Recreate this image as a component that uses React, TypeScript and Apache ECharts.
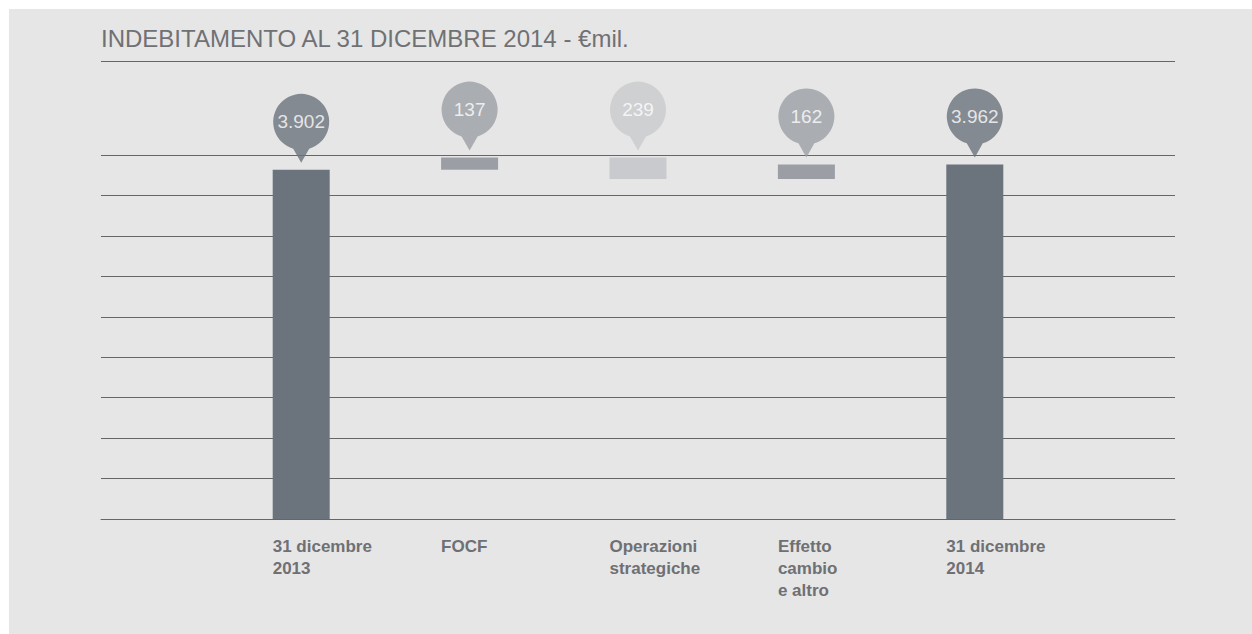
import React, { useEffect, useRef } from "react";
import * as echarts from "echarts";

const categories = [
  "31 dicembre\n2013",
  "FOCF",
  "Operazioni\nstrategiche",
  "Effetto\ncambio\ne altro",
  "31 dicembre\n2014",
];
const startValue = 3902;
const changes = [137, -239, 162];
const endValue = 3962;
const valueLabels = ["3.902", "137", "239", "162", "3.962"];
const barColors = ["#6b737c", "#9b9fa5", "#c8cacd", "#9b9fa5", "#6b737c"];
const axisMax = 4068;
const axisInterval = 452;
const titleText = "INDEBITAMENTO AL 31 DICEMBRE 2014 - €mil.";

const FONT = "'Liberation Sans', Arial, sans-serif";
const PIN = "path://M28 69 L20 54.8 A28 28 0 1 1 36 54.8 Z";

export default function App() {
  const ref = useRef<HTMLDivElement>(null);

  useEffect(() => {
    if (!ref.current) return;
    const chart = echarts.init(ref.current, undefined, { renderer: "svg" });

    const bases: number[] = [0];
    const heights: number[] = [startValue];
    let running = startValue;
    changes.forEach((c) => {
      bases.push(c > 0 ? running : running + c);
      heights.push(Math.abs(c));
      running += c;
    });
    bases.push(0);
    heights.push(endValue);
    const tops = bases.map((b, i) => b + heights[i]);

    const gridTop = 155;
    const gridHeight = 364;

    chart.setOption({
      animation: false,
      backgroundColor: "#ffffff",
      graphic: [
        {
          type: "rect",
          shape: { x: 9, y: 9, width: 1252, height: 634 },
          style: { fill: "#e6e6e6" },
          z: -10,
          silent: true,
        },
        {
          type: "text",
          x: 101,
          y: 38,
          style: {
            text: titleText,
            fill: "#707174",
            font: `normal 24px ${FONT}`,
            verticalAlign: "middle",
            align: "left",
          },
        },
        {
          type: "line",
          shape: { x1: 101, y1: 61.5, x2: 1175, y2: 61.5 },
          style: { stroke: "#666666", lineWidth: 1 },
        },
      ],
      grid: [
        { left: 101, right: 77, top: gridTop, height: gridHeight },
        { left: 217, width: 842, top: gridTop, height: gridHeight },
        { left: 188.5, width: 842, top: gridTop, height: gridHeight },
      ],
      xAxis: [
        {
          type: "category",
          gridIndex: 0,
          data: [""],
          axisLine: { show: true, lineStyle: { color: "#666666", width: 1 } },
          axisTick: { show: false },
          axisLabel: { show: false },
        },
        {
          type: "category",
          gridIndex: 1,
          data: categories,
          axisLine: { show: false },
          axisTick: { show: false },
          axisLabel: { show: false },
        },
        {
          type: "category",
          gridIndex: 2,
          data: categories,
          axisLine: { show: false },
          axisTick: { show: false },
          axisLabel: {
            show: true,
            interval: 0,
            align: "left",
            verticalAlign: "top",
            margin: 16,
            lineHeight: 22,
            fontSize: 17,
            fontWeight: "bold",
            color: "#6e7074",
            fontFamily: FONT,
          },
        },
      ],
      yAxis: [
        {
          type: "value",
          gridIndex: 0,
          min: 0,
          max: axisMax,
          interval: axisInterval,
          axisLine: { show: false },
          axisTick: { show: false },
          axisLabel: { show: false },
          splitLine: { show: true, lineStyle: { color: "#666666", width: 1 } },
        },
        {
          type: "value",
          gridIndex: 1,
          min: 0,
          max: axisMax,
          interval: axisInterval,
          axisLine: { show: false },
          axisTick: { show: false },
          axisLabel: { show: false },
          splitLine: { show: false },
        },
        {
          type: "value",
          gridIndex: 2,
          min: 0,
          max: axisMax,
          interval: axisInterval,
          axisLine: { show: false },
          axisTick: { show: false },
          axisLabel: { show: false },
          splitLine: { show: false },
        },
      ],
      series: [
        {
          type: "bar",
          xAxisIndex: 1,
          yAxisIndex: 1,
          stack: "w",
          barWidth: 57,
          silent: true,
          itemStyle: { color: "transparent" },
          data: bases,
          z: 3,
        },
        {
          type: "bar",
          xAxisIndex: 1,
          yAxisIndex: 1,
          stack: "w",
          barWidth: 57,
          data: heights.map((v, i) => ({ value: v, itemStyle: { color: barColors[i] } })),
          z: 3,
        },
        {
          type: "scatter",
          xAxisIndex: 1,
          yAxisIndex: 1,
          clip: false,
          symbol: PIN,
          symbolSize: [56, 69],
          symbolOffset: [0, -41.5],
          z: 5,
          label: {
            show: true,
            position: "inside",
            offset: [0, -6.5],
            color: "#ffffff",
            fontSize: 19,
            fontFamily: FONT,
          },
          data: tops.map((v, i) => ({
            value: v,
            itemStyle: { color: barColors[i] },
            label: { formatter: valueLabels[i] },
          })),
        },
      ],
    });

    return () => chart.dispose();
  }, []);

  return (
    <div
      ref={ref}
      style={{ position: "fixed", left: 0, top: 0, width: 1252, height: 634 }}
    />
  );
}
